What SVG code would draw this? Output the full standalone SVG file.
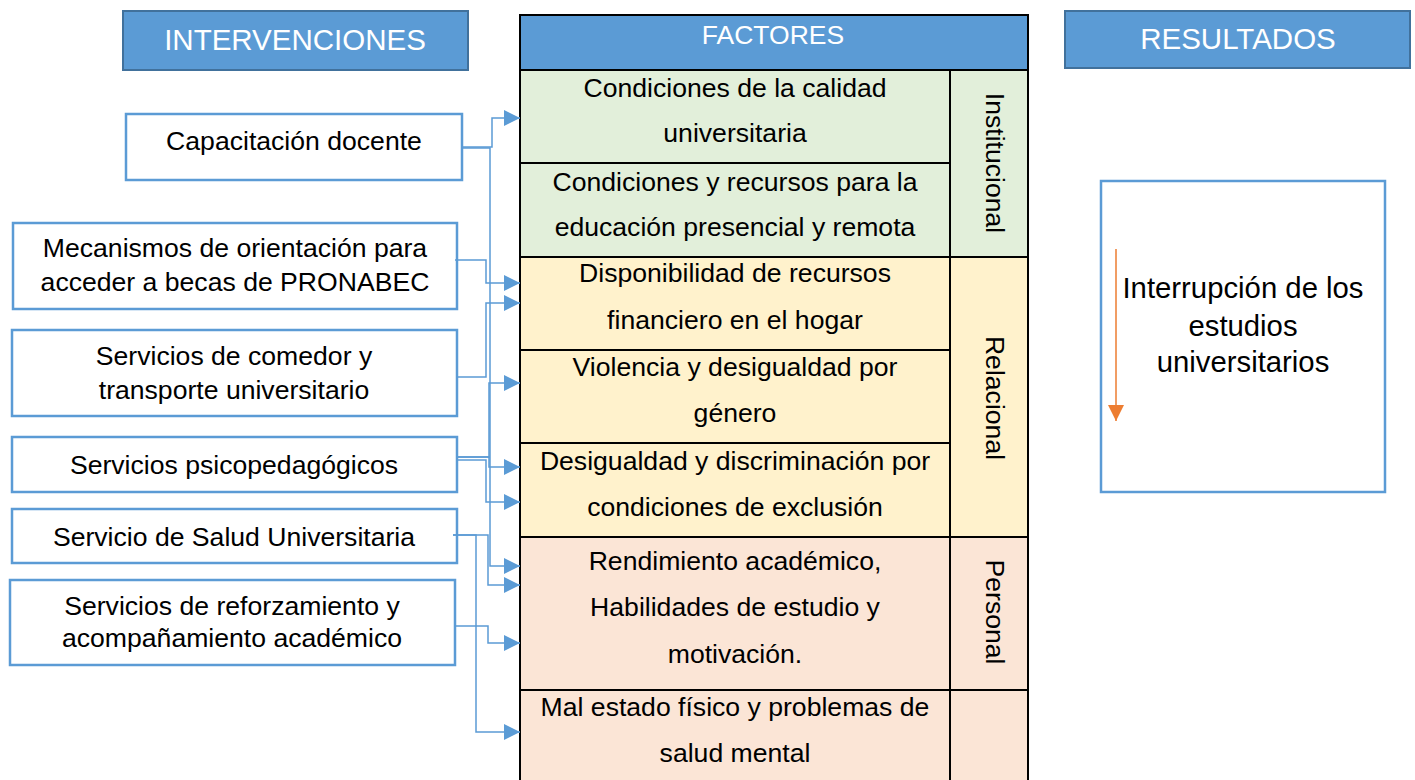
<svg xmlns="http://www.w3.org/2000/svg" width="1415" height="780" viewBox="0 0 1415 780">
<defs>
<style>
.t{font-family:"Liberation Sans",Arial,sans-serif;font-size:26.6px;fill:#000;text-anchor:middle}
.h{font-family:"Liberation Sans",Arial,sans-serif;font-size:29.5px;fill:#fff;text-anchor:middle}
.hdr{fill:#5B9BD5;stroke:#41719C;stroke-width:2}
.box{fill:#fff;stroke:#5B9BD5;stroke-width:2.5}
.cell{stroke:#000;stroke-width:2}
.g{fill:#E2EFDA}.y{fill:#FFF2CC}.p{fill:#FBE5D6}
.c{fill:none;stroke:#5B9BD5;stroke-width:1.5}
</style>
<marker id="ah" markerUnits="userSpaceOnUse" markerWidth="16" markerHeight="16" refX="16" refY="8" orient="auto">
<path d="M0,0 L16,8 L0,16 Z" fill="#5B9BD5"/>
</marker>
<marker id="oa" markerUnits="userSpaceOnUse" markerWidth="16" markerHeight="16" refX="8" refY="16" orient="0">
<path d="M0,0 L16,0 L8,16 Z" fill="#ED7D31"/>
</marker>
</defs>
<rect width="1415" height="780" fill="#fff"/>

<g id="hdr-intervenciones">
<rect class="hdr" x="123" y="11" width="345" height="59"/>
<text class="h" x="295" y="50">INTERVENCIONES</text>
</g>
<g id="hdr-resultados">
<rect class="hdr" x="1065" y="11" width="345" height="57"/>
<text class="h" x="1238" y="49">RESULTADOS</text>
</g>

<g id="factores-table">
<rect x="520" y="15" width="508" height="55" fill="#5B9BD5" stroke="#000" stroke-width="2"/>
<text class="h" x="773" y="44" style="font-size:26.5px">FACTORES</text>
<rect class="cell g" x="520" y="70" width="430" height="93"/>
<rect class="cell g" x="520" y="163" width="430" height="94"/>
<rect class="cell y" x="520" y="257" width="430" height="93"/>
<rect class="cell y" x="520" y="350" width="430" height="93"/>
<rect class="cell y" x="520" y="443" width="430" height="94"/>
<rect class="cell p" x="520" y="537" width="430" height="153"/>
<rect class="cell p" x="520" y="690" width="430" height="95"/>
<rect class="cell g" x="950" y="70" width="78" height="187"/>
<rect class="cell y" x="950" y="257" width="78" height="280"/>
<rect class="cell p" x="950" y="537" width="78" height="153"/>
<rect class="cell p" x="950" y="690" width="78" height="95"/>
<text class="t" x="735" y="97">Condiciones de la calidad</text>
<text class="t" x="735" y="142">universitaria</text>
<text class="t" x="735" y="191">Condiciones y recursos para la</text>
<text class="t" x="735" y="236">educación presencial y remota</text>
<text class="t" x="735" y="282">Disponibilidad de recursos</text>
<text class="t" x="735" y="329">financiero en el hogar</text>
<text class="t" x="735" y="376">Violencia y desigualdad por</text>
<text class="t" x="735" y="422">género</text>
<text class="t" x="735" y="470">Desigualdad y discriminación por</text>
<text class="t" x="735" y="516">condiciones de exclusión</text>
<text class="t" x="735" y="570">Rendimiento académico,</text>
<text class="t" x="735" y="616">Habilidades de estudio y</text>
<text class="t" x="735" y="663">motivación.</text>
<text class="t" x="735" y="716">Mal estado físico y problemas de</text>
<text class="t" x="735" y="762">salud mental</text>
<text class="t" transform="translate(995,163) rotate(90)" x="0" y="9">Institucional</text>
<text class="t" transform="translate(995,398) rotate(90)" x="0" y="9">Relacional</text>
<text class="t" transform="translate(995,612) rotate(90)" x="0" y="9">Personal</text>
</g>

<g id="n-capacitacion">
<rect class="box" x="126" y="114" width="336" height="66"/>
<text class="t" x="294" y="150">Capacitación docente</text>
</g>
<g id="n-mecanismos">
<rect class="box" x="13" y="223" width="444" height="86"/>
<text class="t" x="235" y="257">Mecanismos de orientación para</text>
<text class="t" x="235" y="291">acceder a becas de PRONABEC</text>
</g>
<g id="n-comedor">
<rect class="box" x="12" y="330" width="445" height="86"/>
<text class="t" x="234" y="365">Servicios de comedor y</text>
<text class="t" x="234" y="399">transporte universitario</text>
</g>
<g id="n-psico">
<rect class="box" x="12" y="437" width="445" height="55"/>
<text class="t" x="234" y="474">Servicios psicopedagógicos</text>
</g>
<g id="n-salud">
<rect class="box" x="12" y="509" width="445" height="54"/>
<text class="t" x="234" y="546">Servicio de Salud Universitaria</text>
</g>
<g id="n-reforzamiento">
<rect class="box" x="10" y="580" width="445" height="85"/>
<text class="t" x="232" y="615">Servicios de reforzamiento y</text>
<text class="t" x="232" y="647">acompañamiento académico</text>
</g>

<g id="n-resultado">
<rect class="box" x="1101" y="181" width="284" height="311"/>
<text class="t" x="1243" y="298" style="font-size:29.3px">Interrupción de los</text>
<text class="t" x="1243" y="336" style="font-size:29.3px">estudios</text>
<text class="t" x="1243" y="372" style="font-size:29.3px">universitarios</text>
<line x1="1116" y1="249" x2="1116" y2="421" stroke="#ED7D31" stroke-width="1.5" marker-end="url(#oa)"/>
</g>

<g id="connectors">
<path class="c" d="M462,147 H492 V118 H520" marker-end="url(#ah)"/>
<path class="c" d="M462,148 H490 V566 H520" marker-end="url(#ah)"/>
<path class="c" d="M455,260 H486 V283 H520" marker-end="url(#ah)"/>
<path class="c" d="M457,377 H486 V303 H520" marker-end="url(#ah)"/>
<path class="c" d="M457,457 H489 V383 H520" marker-end="url(#ah)"/>
<path class="c" d="M457,457 H489 V467 H520" marker-end="url(#ah)"/>
<path class="c" d="M457,460 H486 V502 H520" marker-end="url(#ah)"/>
<path class="c" d="M453,535 H488 V585 H520" marker-end="url(#ah)"/>
<path class="c" d="M453,535 H476 V732 H520" marker-end="url(#ah)"/>
<path class="c" d="M455,626 H488 V643 H520" marker-end="url(#ah)"/>
</g>
</svg>
